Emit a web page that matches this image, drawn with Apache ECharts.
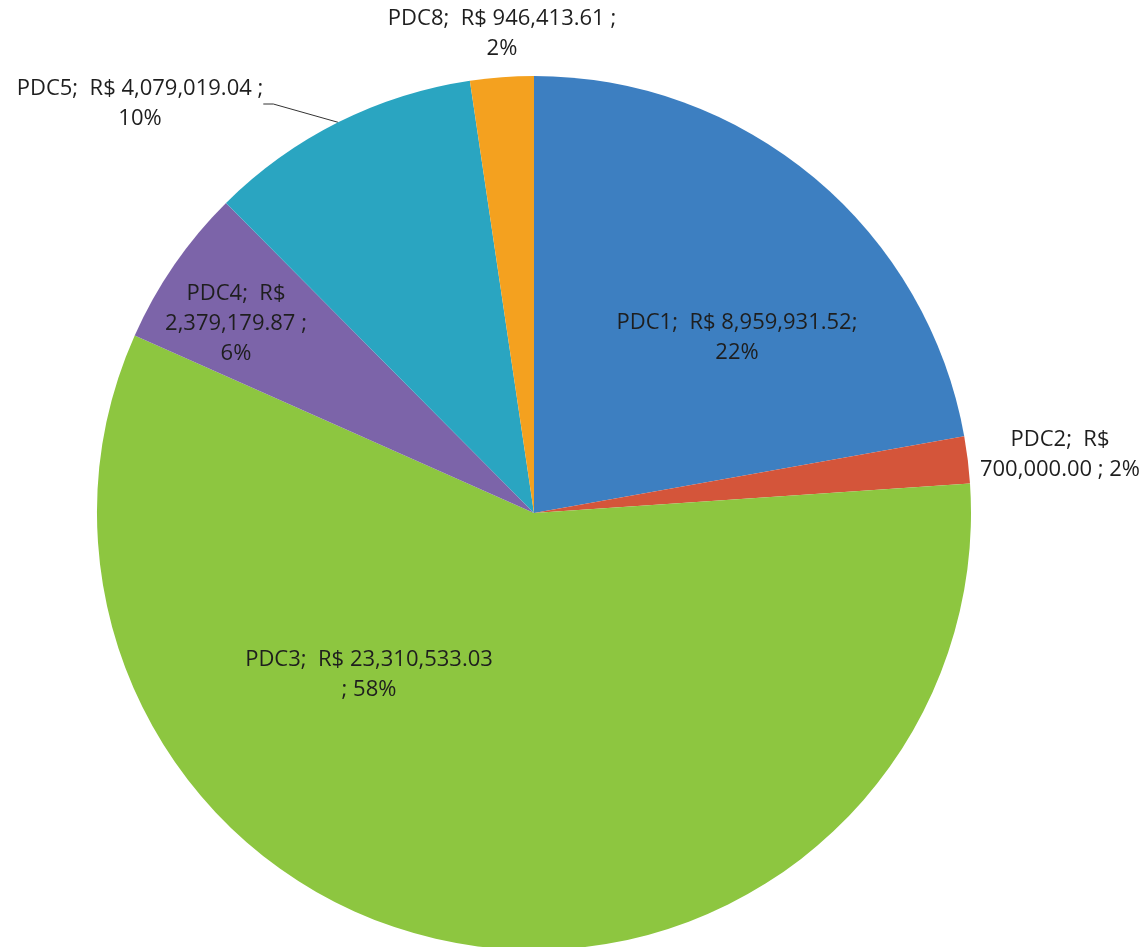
<!DOCTYPE html>
<html>
<head>
<meta charset="utf-8">
<script src="https://cdn.jsdelivr.net/npm/echarts@6/dist/echarts.min.js"></script>
<style>
  html, body { margin: 0; padding: 0; background: #fff; }
  #chart { width: 1146px; height: 947px; }
</style>
</head>
<body>
<div id="chart"></div>
<script>
// slices in Excel order (clockwise from 12 o'clock)
const names = ['PDC1', 'PDC2', 'PDC3', 'PDC4', 'PDC5', 'PDC8'];
const values = [8959931.52, 700000.00, 23310533.03, 2379179.87, 4079019.04, 946413.61];
const colors = ['#3d7fc1', '#d4553a', '#8dc640', '#7c64a9', '#2aa5c1', '#f4a11f'];
// how each label wraps: {n}=name, {v}=value, {p}=percent
const labelTemplates = [
    '{n};  R$ {v};\n{p}',
    '{n};  R$\n{v} ; {p}',
    '{n};  R$ {v}\n; {p}',
    '{n};  R$\n{v} ;\n{p}',
    '{n};  R$ {v} ;\n{p}',
    '{n};  R$ {v} ;\n{p}'
];
// where Excel put each label (centre of the text block)
const labelSpots = [[737, 338], [1060, 455], [369, 675], [236, 324], [140, 104], [502, 34]];

const fmt = v => v.toLocaleString('en-US', { minimumFractionDigits: 2, maximumFractionDigits: 2 });

const chart = echarts.init(document.getElementById('chart'));
chart.setOption({
    backgroundColor: '#fff',
    animation: false,
    series: [{
        type: 'pie',
        center: [534, 513],
        radius: 437,
        startAngle: 90,
        clockwise: true,
        avoidLabelOverlap: false,
        percentPrecision: 0,
        itemStyle: { borderWidth: 0 },
        label: {
            show: true,
            position: 'outside',
            fontFamily: 'Open Sans',
            fontSize: 22,
            lineHeight: 30,
            color: '#1e1e1e',
            align: 'center',
            formatter: p => labelTemplates[p.dataIndex]
                .replace('{n}', p.name)
                .replace('{v}', fmt(p.value))
                .replace('{p}', p.percent + '%')
        },
        labelLine: { show: false },
        labelLayout: p => ({
            x: labelSpots[p.dataIndex][0],
            y: labelSpots[p.dataIndex][1],
            align: 'center',
            verticalAlign: 'middle'
        }),
        data: names.map((n, i) => ({
            name: n,
            value: values[i],
            itemStyle: { color: colors[i] },
            labelLine: n === 'PDC5'
                ? { show: true, length: 10, length2: 10, lineStyle: { color: '#333', width: 1 } }
                : { show: false }
        }))
    }]
});
</script>
</body>
</html>
